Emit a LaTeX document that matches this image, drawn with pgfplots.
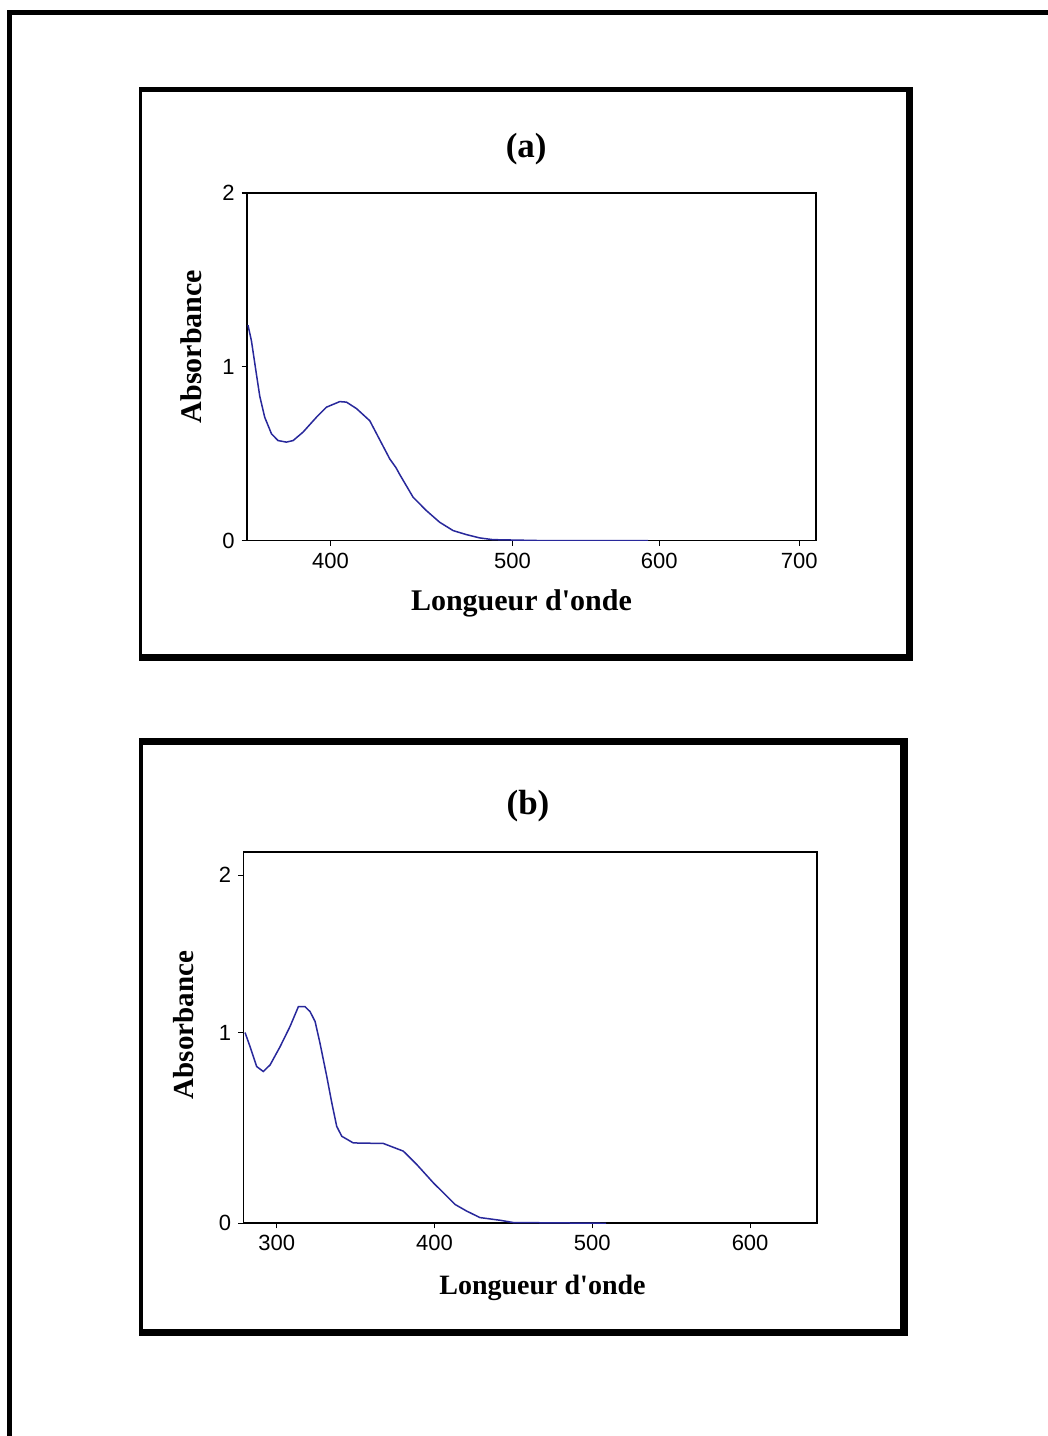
\documentclass[border=0pt]{standalone}
\usepackage{fontspec}
\setmainfont{Liberation Serif}
\newfontfamily\tickfont{Liberation Sans}
\usepackage{pgfplots}
\pgfplotsset{compat=1.18}
\definecolor{spec}{RGB}{40,40,155}

\pgfplotsset{
  specaxis/.style={
    scale only axis,
    anchor=south west,
    axis line style={line width=0.8pt},
    tick style={line width=0.6pt, black},
    major tick length=2.5pt,
    tick align=outside,
    tick pos=left,
    ticklabel style={font=\tickfont\fontsize{11}{12}\selectfont},
    label style={font=\bfseries\fontsize{15}{17}\selectfont},
    title style={font=\bfseries\fontsize{17.5}{20}\selectfont},
  }
}

\begin{document}
\begin{tikzpicture}
\path[use as bounding box] (0,0) rectangle (524pt,718pt);
% outer frame
\draw[line width=2.5pt, line join=miter] (4.75pt,-10pt) -- (4.75pt,711.75pt) -- (540pt,711.75pt);
% panel frames
\fill[black] (69.5pt,387.5pt) rectangle (456.5pt,674.5pt);
\fill[white] (71pt,391pt) rectangle (453pt,672pt);
\fill[black] (69.5pt,50pt) rectangle (454pt,349pt);
\fill[white] (71.5pt,53.5pt) rectangle (450pt,345.5pt);

% ---------- (a) ----------
\begin{axis}[specaxis,
  at={(123.35pt,447.65pt)}, width=284.65pt, height=173.85pt,
  x coord trafo/.code={\pgfmathparse{(1-(#1>500))*(330.7+(#1-400)*1.82)+((#1>500)-(#1>600))*(512.7+(#1-500)*1.466)+(#1>600)*(659.3+(#1-600)*1.4)}},
  x coord inv trafo/.code={\pgfmathparse{(1-(#1>512.7))*(400+(#1-330.7)/1.82)+((#1>512.7)-(#1>659.3))*(500+(#1-512.7)/1.466)+(#1>659.3)*(600+(#1-659.3)/1.4)}},
  xmin=354, xmax=712, ymin=0, ymax=2,
  xtick={400,500,600,700}, xticklabels={400,500,600,700},
  ytick={0,1,2}, yticklabels={0,1,2},
  title={(a)}, title style={at={(axis description cs:0.491,1.092)}, anchor=center},
  xlabel={Longueur d\textquotesingle onde},
  xlabel style={at={(axis description cs:0.4827,-0.2013)}, anchor=base},
  ylabel={Absorbance},
  ylabel style={at={(axis description cs:-0.0966,0.5585)}, anchor=center},
]
\addplot[spec, line width=0.75pt] coordinates {
(354.7,1.24) (356.6,1.15) (359.3,0.96) (361.2,0.83) (363.9,0.71)
(367.6,0.615) (371.2,0.576) (375.8,0.567) (379.5,0.576) (384.9,0.624)
(392.3,0.71) (397.8,0.768) (405.1,0.80) (408.8,0.797) (414.3,0.76)
(421.6,0.69) (427.1,0.58) (432.6,0.47) (436.0,0.42) (438.1,0.38)
(445.4,0.25) (452.7,0.173) (460.0,0.106) (467.4,0.058) (474.7,0.035)
(482.0,0.016) (489.2,0.006) (523.2,0.0) (592.5,0.0)
};
\end{axis}

% ---------- (b) ----------
\begin{axis}[specaxis,
  at={(121.65pt,106.35pt)}, width=286.7pt, height=185.5pt,
  y coord trafo/.code={\pgfmathparse{(1-(#1>1))*(#1*191)+(#1>1)*(191+(#1-1)*158)}},
  y coord inv trafo/.code={\pgfmathparse{(1-(#1>191))*(#1/191)+(#1>191)*(1+(#1-191)/158)}},
  xmin=278.8, xmax=642.2, ymin=0, ymax=2.146,
  xtick={300,400,500,600}, xticklabels={300,400,500,600},
  ytick={0,1,2}, yticklabels={0,1,2},
  title={(b)}, title style={at={(axis description cs:0.4965,1.093)}, anchor=center},
  xlabel={Longueur d\textquotesingle onde},
  xlabel style={at={(axis description cs:0.5218,-0.193)}, anchor=base, font=\bfseries\fontsize{14}{16}\selectfont},
  ylabel={Absorbance},
  ylabel style={at={(axis description cs:-0.1046,0.5345)}, anchor=center, font=\bfseries\fontsize{14.5}{16}\selectfont},
]
\addplot[spec, line width=0.75pt] coordinates {
(279.9,1.002) (283.1,0.927) (287.3,0.823) (291.5,0.797) (295.8,0.832)
(302.1,0.927) (308.4,1.04) (313.7,1.166) (317.9,1.166) (321.1,1.135)
(324.3,1.072) (327.4,0.946) (331.7,0.771) (334.9,0.632) (338.0,0.509)
(341.2,0.457) (348.5,0.422) (367.6,0.419) (380.2,0.379) (388.7,0.309)
(399.2,0.213) (413.0,0.099) (420.4,0.064) (428.8,0.030) (441.5,0.016)
(449.9,0.004) (508.7,0.0)
};
\end{axis}
\end{tikzpicture}
\end{document}
